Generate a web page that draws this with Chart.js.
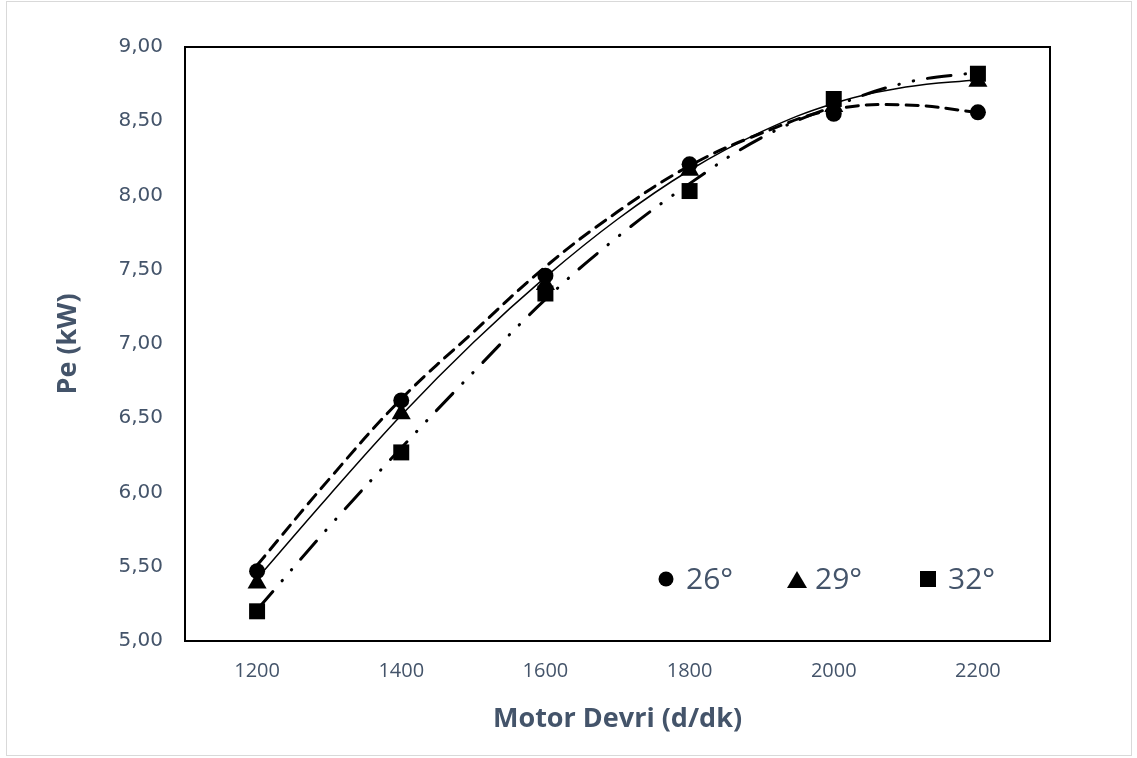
<!DOCTYPE html>
<html lang="tr">
<head>
  <meta charset="UTF-8">
  <title>Pe - Motor Devri</title>
  <script src="https://cdn.jsdelivr.net/npm/chart.js"></script>
  <style>
    body {
      margin: 0;
      background: #fff;
    }
    .wrap {
      position: relative;
      width: 1137px;
      height: 758px;
    }
    .frame {
      position: absolute;
      left: 6px;
      top: 1px;
      width: 1124px;
      height: 753px;
      border: 1px solid #d9d9d9;
      pointer-events: none;
    }
  </style>
</head>
<body>

<div class="wrap">
  <canvas id="peChart"></canvas>
  <div class="frame"></div>
</div>

<script>
  // measured points
  const rpm = [1200, 1400, 1600, 1800, 2000, 2200];
  const pe26 = [5.47, 6.62, 7.46, 8.21, 8.55, 8.56];
  const pe29 = [5.39, 6.53, 7.40, 8.17, 8.60, 8.77];
  const pe32 = [5.20, 6.27, 7.34, 8.03, 8.65, 8.82];

  // trend curves, every 100 d/dk
  const trendRpm = [1200, 1300, 1400, 1500, 1600, 1700, 1800, 1900, 2000, 2100, 2200];
  const trend26 = [5.51, 6.09, 6.63, 7.08, 7.52, 7.89, 8.20, 8.42, 8.58, 8.61, 8.56];
  const trend29 = [5.42, 5.98, 6.52, 7.01, 7.45, 7.84, 8.17, 8.43, 8.62, 8.73, 8.78];
  const trend32 = [5.21, 5.77, 6.30, 6.81, 7.30, 7.72, 8.08, 8.39, 8.60, 8.76, 8.83];

  const seriesNames = ['26°', '29°', '32°'];
  const xTicks = [1200, 1400, 1600, 1800, 2000, 2200];

  const textColor = '#44546a';

  function pts(xs, ys) {
    return xs.map((x, i) => ({ x: x, y: ys[i] }));
  }

  // black box round the plot area
  const plotFrame = {
    id: 'plotFrame',
    beforeDatasetsDraw(chart) {
      const a = chart.chartArea;
      const ctx = chart.ctx;
      ctx.save();
      ctx.strokeStyle = '#000';
      ctx.lineWidth = 2;
      ctx.strokeRect(a.left, a.top, a.right - a.left, a.bottom - a.top);
      ctx.restore();
    }
  };

  // legend sits inside the plot, bottom right
  const innerLegend = {
    id: 'innerLegend',
    afterDraw(chart) {
      const a = chart.chartArea;
      const ctx = chart.ctx;
      const y = a.bottom - 62;
      const slots = [a.right - 384, a.right - 253, a.right - 122];
      ctx.save();
      ctx.font = '30px "Open Sans"';
      ctx.textBaseline = 'middle';
      slots.forEach((x, i) => {
        ctx.fillStyle = '#000';
        ctx.beginPath();
        if (i === 0) {
          ctx.arc(x, y, 7.5, 0, Math.PI * 2);
        } else if (i === 1) {
          ctx.moveTo(x - 10, y + 9);
          ctx.lineTo(x + 10, y + 9);
          ctx.lineTo(x, y - 8);
          ctx.closePath();
        } else {
          ctx.rect(x - 8, y - 8, 16, 16);
        }
        ctx.fill();
        ctx.fillStyle = textColor;
        ctx.fillText(seriesNames[i], x + (i === 1 ? 18 : 20), y + 1);
      });
      ctx.restore();
    }
  };

  const markerBase = {
    showLine: false,
    backgroundColor: '#000',
    borderColor: '#000',
    pointBorderWidth: 0,
    order: 0
  };

  const trendBase = {
    pointRadius: 0,
    borderColor: '#000',
    backgroundColor: '#000',
    tension: 0.4,
    fill: false,
    order: 1
  };

  new Chart(document.getElementById('peChart'), {
    type: 'line',
    data: {
      datasets: [
        Object.assign({}, markerBase, { label: seriesNames[0], data: pts(rpm, pe26), pointStyle: 'circle', pointRadius: 8 }),
        Object.assign({}, markerBase, { label: seriesNames[1], data: pts(rpm, pe29), pointStyle: 'triangle', pointRadius: 11 }),
        Object.assign({}, markerBase, { label: seriesNames[2], data: pts(rpm, pe32), pointStyle: 'rect', pointRadius: 11.3 }),
        Object.assign({}, trendBase, { label: 'trend 26', data: pts(trendRpm, trend26), borderWidth: 3, borderDash: [12, 8], borderCapStyle: 'round' }),
        Object.assign({}, trendBase, { label: 'trend 29', data: pts(trendRpm, trend29), borderWidth: 1.5 }),
        Object.assign({}, trendBase, { label: 'trend 32', data: pts(trendRpm, trend32), borderWidth: 3, borderDash: [24, 14, 0.5, 14, 0.5, 14], borderCapStyle: 'round' })
      ]
    },
    options: {
      responsive: true,
      maintainAspectRatio: false,
      animation: false,
      layout: { padding: { top: 47, right: 87, left: 0, bottom: 0 } },
      plugins: {
        legend: { display: false },
        tooltip: { enabled: false }
      },
      scales: {
        x: {
          type: 'linear',
          min: 1100,
          max: 2300,
          afterBuildTicks: (axis) => { axis.ticks = xTicks.map(v => ({ value: v })); },
          afterFit: (axis) => { axis.height = 117; },
          grid: { display: false, drawTicks: false },
          border: { display: false },
          ticks: {
            padding: 18,
            color: textColor,
            font: { family: 'Open Sans', size: 20 },
            callback: (v) => String(v)
          },
          title: {
            display: true,
            text: 'Motor Devri (d/dk)',
            color: textColor,
            font: { family: 'Open Sans', size: 27, weight: 'bold' },
            padding: { top: 0, bottom: 22 }
          }
        },
        y: {
          min: 5,
          max: 9,
          afterFit: (axis) => { axis.width = 185; },
          grid: { display: false, drawTicks: false },
          border: { display: false },
          ticks: {
            stepSize: 0.5,
            padding: 22,
            color: textColor,
            font: { family: 'DejaVu Sans', size: 20 },
            callback: (v) => v.toFixed(2).replace('.', ',')
          },
          title: {
            display: true,
            text: 'Pe (kW)',
            color: textColor,
            font: { family: 'Open Sans', size: 27, weight: 'bold' },
            padding: { top: 52, bottom: 0 }
          }
        }
      }
    },
    plugins: [plotFrame, innerLegend]
  });
</script>

</body>
</html>
